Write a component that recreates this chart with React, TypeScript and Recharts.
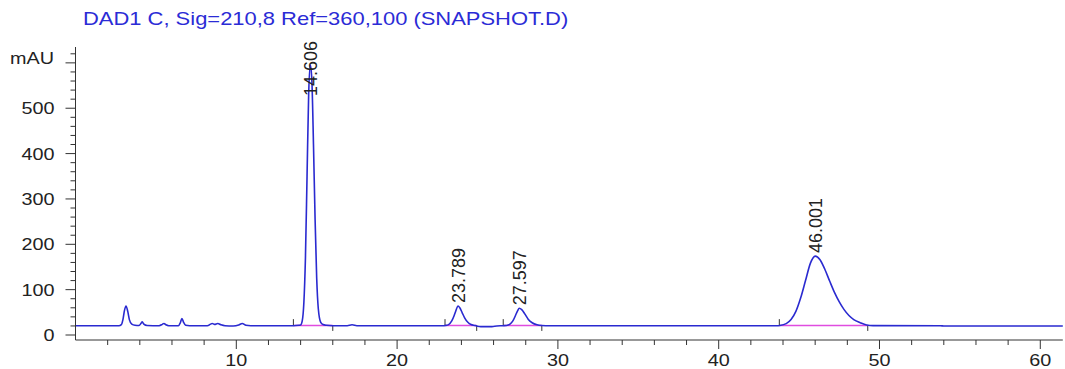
import React from 'react';
import { ComposedChart, Line, XAxis, YAxis, Scatter, ReferenceLine } from 'recharts';

const title = 'DAD1 C, Sig=210,8 Ref=360,100 (SNAPSHOT.D)';
const yUnit = 'mAU';

const times = [
  0, 2.7, 2.85, 2.95, 3.05, 3.14, 3.25, 3.35, 3.5, 3.7, 3.95, 4.08, 4.15, 4.25, 4.45,
  5.2, 5.4, 5.5, 5.62, 5.8, 6.4, 6.52, 6.62, 6.72, 6.85, 7.1, 8.2, 8.4, 8.5, 8.65,
  8.85, 9.05, 9.3, 9.8, 10.15, 10.37, 10.6, 10.9, 13.0, 13.55, 13.9, 14.0, 14.1, 14.2,
  14.3, 14.4, 14.5, 14.606, 14.7, 14.8, 14.9, 15.0, 15.1, 15.25, 15.4, 15.6, 16.0, 16.9,
  17.2, 17.5, 22.9, 23.0, 23.2, 23.4, 23.55, 23.65, 23.789, 23.9, 24.05, 24.2, 24.4,
  24.6, 24.85, 25.0, 25.2, 25.9, 26.2, 26.6, 26.8, 27.0, 27.2, 27.35, 27.5, 27.597,
  27.75, 27.95, 28.15, 28.4, 28.7, 29.0, 29.5, 43.6, 43.8, 44.2, 44.5, 44.8, 45.1,
  45.4, 45.7, 46.001, 46.3, 46.6, 46.9, 47.2, 47.5, 47.8, 48.1, 48.4, 48.8, 49.2, 49.6,
  53.8, 54.0, 61.4,
];
const signal = [
  20.5, 20.5, 23, 34, 55, 64, 52, 34, 24, 21.5, 21, 26, 29, 24, 21,
  20.5, 23.5, 25.5, 22.5, 20.5, 20.5, 27, 36.5, 28, 21.5, 20.5, 20.5, 24, 25.5, 23.5,
  25.5, 22.5, 20.5, 20, 22, 25.5, 21.5, 20.5, 20.5, 20.5, 21.5, 22, 31, 70,
  170, 350, 530, 595, 560, 420, 255, 125, 58, 28, 23, 21.5, 20.5, 20.5,
  22.5, 20.5, 20.5, 21, 23, 31, 43, 53, 64, 60, 49, 38, 28,
  23, 21, 19.5, 18.5, 18.5, 20, 20.5, 21, 23.5, 31, 42, 54, 59,
  56, 46, 35, 27, 22.5, 21, 20.5, 20.5, 21, 25, 34, 52, 82,
  120, 158, 174, 166, 145, 119, 94, 73, 56, 43, 34, 27, 22, 20.8,
  20.5, 19.8, 19.8,
];

const peakTimes = [14.606, 23.789, 27.597, 46.001];
const peakHeights = [595, 64, 59, 174];
const peakLabels = ['14.606', '23.789', '27.597', '46.001'];

const integStart = [13.55, 22.98, 26.6, 43.77];
const integEnd = [16.0, 24.95, 29.0, 49.27];
const integBase = [21, 21, 21, 21];

const xTicks = [2, 4, 6, 8, 10, 12, 14, 16, 18, 20, 22, 24, 26, 28, 30, 32, 34, 36, 38, 40, 42, 44, 46, 48, 50, 52, 54, 56, 58, 60];
const xLabels = [10, 20, 30, 40, 50, 60];
const yTicks = [0, 20, 40, 60, 80, 100, 120, 140, 160, 180, 200, 220, 240, 260, 280, 300, 320, 340, 360, 380, 400, 420, 440, 460, 480, 500, 520, 540, 560, 580, 600, 620];
const yLabels = [0, 100, 200, 300, 400, 500];
const yUnitTick = 600;

const chromData = times.map((t, i) => ({ t, v: signal[i] }));
const peakData = peakTimes.map((t, i) => ({ t, v: peakHeights[i], label: peakLabels[i] }));

const FONT = '"Liberation Sans", Arial, sans-serif';
const AXIS = '#333';
const TEXT = '#222';
const STRETCH = 1.2;

const YTick = (props: any) => {
  const { x, y, payload } = props;
  const v = payload.value;
  const major = v % 100 === 0;
  const len = major ? 10 : 5;
  return (
    <g>
      <line x1={x - len} x2={x} y1={y} y2={y} stroke={AXIS} strokeWidth={1} />
      {yLabels.includes(v) && (
        <text
          transform={`translate(${x - 21},${y}) scale(${STRETCH},1)`}
          textAnchor="end"
          dy="0.36em"
          fontFamily={FONT}
          fontSize={16.5}
          fill={TEXT}
        >
          {v}
        </text>
      )}
      {v === yUnitTick && (
        <text
          transform={`translate(${x - 21.5},${y - 4.5}) scale(${STRETCH},1)`}
          textAnchor="end"
          dy="0.36em"
          fontFamily={FONT}
          fontSize={16.5}
          fill={TEXT}
        >
          {yUnit}
        </text>
      )}
    </g>
  );
};

const XTick = (props: any) => {
  const { x, y, payload } = props;
  const v = payload.value;
  const major = v % 10 === 0;
  const len = major ? 9 : 5;
  return (
    <g>
      <line x1={x} x2={x} y1={y} y2={y + len} stroke={AXIS} strokeWidth={1} />
      {xLabels.includes(v) && (
        <text
          transform={`translate(${x},${y + 26}) scale(${STRETCH},1)`}
          textAnchor="middle"
          fontFamily={FONT}
          fontSize={16.5}
          fill={TEXT}
        >
          {v}
        </text>
      )}
    </g>
  );
};

const PeakLabel = (props: any) => {
  const { cx, cy, payload } = props;
  if (cx == null || cy == null) return null;
  const yb = Math.max(cy - 3, 96);
  return (
    <text
      transform={`translate(${cx},${yb}) rotate(-90)`}
      textAnchor="start"
      dy="0.36em"
      fontFamily={FONT}
      fontSize={18}
      fill={TEXT}
    >
      {payload.label}
    </text>
  );
};

export default function App() {
  return (
    <div style={{ position: 'absolute', left: 0, top: 0, width: 1065, height: 369, background: '#fff' }}>
      <div
        style={{
          position: 'absolute',
          left: 82.7,
          top: 11.2,
          fontFamily: FONT,
          fontSize: 17.7,
          lineHeight: 1,
          color: '#2b2bd6',
          whiteSpace: 'nowrap',
          transform: `scaleX(1.24)`,
          transformOrigin: 'left top',
        }}
      >
        {title}
      </div>
      <ComposedChart width={1065} height={369} margin={{ top: 47, right: 2.2, bottom: 0, left: 0 }}>
        <XAxis
          type="number"
          dataKey="t"
          domain={[0, 61.4]}
          ticks={xTicks}
          interval={0}
          height={29}
          tickSize={0}
          tickMargin={0}
          tickLine={false}
          stroke={AXIS}
          tick={<XTick />}
        />
        <YAxis
          type="number"
          dataKey="v"
          domain={[-11, 635]}
          ticks={yTicks}
          interval={0}
          width={75.5}
          tickSize={0}
          tickMargin={0}
          tickLine={false}
          stroke={AXIS}
          tick={<YTick />}
        />
        {integStart.map((s, i) => (
          <ReferenceLine
            key={`b${i}`}
            segment={[{ x: s, y: integBase[i] }, { x: integEnd[i], y: integBase[i] }]}
            stroke="#e04ce0"
            strokeWidth={1.5}
          />
        ))}
        {integStart.map((s, i) => (
          <ReferenceLine
            key={`s${i}`}
            segment={[{ x: s, y: integBase[i] }, { x: s, y: integBase[i] + 14 }]}
            stroke="#333"
            strokeWidth={1}
          />
        ))}
        {integEnd.map((e, i) => (
          <ReferenceLine
            key={`e${i}`}
            segment={[{ x: e, y: integBase[i] }, { x: e, y: integBase[i] - 12 }]}
            stroke="#333"
            strokeWidth={1}
          />
        ))}
        <Line
          data={chromData}
          dataKey="v"
          type="monotone"
          stroke="#2a2ad0"
          strokeWidth={1.6}
          dot={false}
          activeDot={false}
          isAnimationActive={false}
        />
        <Scatter
          data={peakData}
          dataKey="v"
          shape={<PeakLabel />}
          isAnimationActive={false}
        />
      </ComposedChart>
    </div>
  );
}
